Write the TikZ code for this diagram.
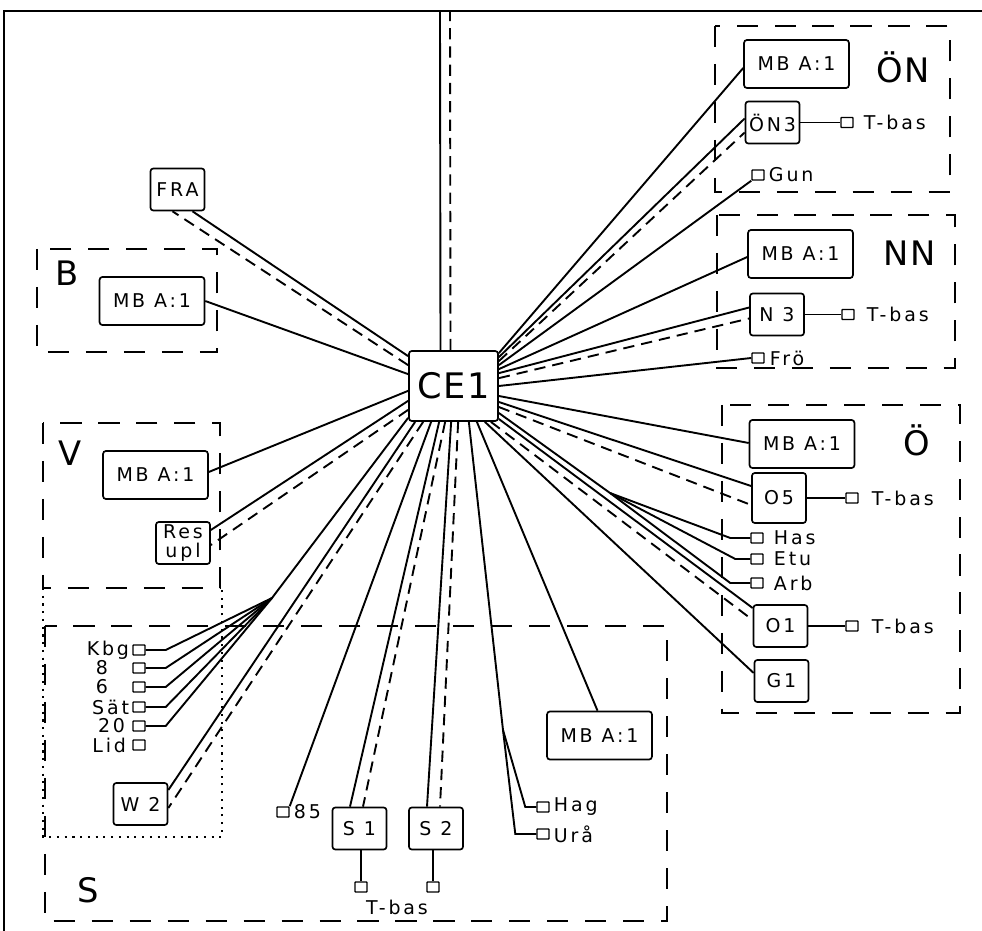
\documentclass[tikz,border=0pt]{standalone}
\usepackage{fontspec}
\setmainfont{DejaVu Sans}
\newfontfamily\plotfont[LetterSpace=15]{DejaVu Sans}
\newfontfamily\plotbig[LetterSpace=5]{DejaVu Sans}
\usetikzlibrary{calc}

\begin{document}
\begin{tikzpicture}[
    x=0.025cm, y=-0.025cm,
    font=\plotfont\fontsize{13.5}{15}\selectfont,
    mbbox/.style={rectangle, draw, rounded corners=2pt, line width=1.2pt, minimum width=2.62cm, minimum height=1.2cm, inner sep=0pt},
    stnbox/.style={rectangle, draw, rounded corners=2pt, line width=1.2pt, minimum width=1.35cm, minimum height=1.05cm, inner sep=0pt},
    term/.style={rectangle, draw, rounded corners=0.5pt, line width=1pt, minimum width=0.3cm, minimum height=0.25cm, inner sep=0pt},
    grp/.style={draw, line width=1.5pt, dash pattern=on 15pt off 12pt},
    grplabel/.style={font=\plotbig\fontsize{24}{26}\selectfont},
    link/.style={line width=1.35pt},
    dlink/.style={line width=1.35pt, dash pattern=on 8pt off 5pt}
]
\useasboundingbox (0,0) rectangle (982,931);

\coordinate (frameTL) at (4,11);
\coordinate (topS) at (440,11);
\coordinate (topD) at (450,11);
\draw[line width=2pt] (4,931) -- (frameTL) -- (982,11);

\draw[grp] (715,26) rectangle (950,192);
\draw[grp] (717,215) rectangle (955,368);
\draw[grp] (722,405) rectangle (960,713);
\draw[grp] (37,249) rectangle (217,352);
\draw[grp] (43,423) rectangle (220,588);
\draw[grp] (45,626) rectangle (667,921);
\draw[line width=1.3pt, dash pattern=on 1.5pt off 4pt] (43,588) -- (43,837) -- (222,837) -- (222,588);

\node[stnbox, minimum width=2.225cm, minimum height=1.75cm, font=\plotbig\fontsize{25}{27}\selectfont] (ce) at (453.5,386) {CE1};

\node[mbbox] (mbON) at (796.5,64) {MB A:1};
\node[stnbox] (on3) at (772.5,122.5) {ÖN3};
\node[term] (tON3) at (847,122.5) {};
\node[anchor=west] (tbON3) at (859,122.5) {T-bas};
\node[term] (tGun) at (758,175) {};
\node[anchor=west] (lGun) at (764,175) {Gun};
\node[grplabel] (lON) at (903,67) {ÖN};

\node[mbbox] (mbNN) at (800.5,254) {MB A:1};
\node[stnbox] (n3) at (777,314.5) {N 3};
\node[term] (tN3) at (848,314.5) {};
\node[anchor=west] (tbN3) at (862,314.5) {T-bas};
\node[term] (tFro) at (758,358) {};
\node[anchor=west] (lFro) at (765,358) {Frö};
\node[grplabel] (lNN) at (910,253) {NN};

\node[mbbox] (mbO) at (802,444) {MB A:1};
\node[stnbox, minimum height=1.25cm] (o5) at (779,498) {O5};
\node[term] (tO5) at (852,498) {};
\node[anchor=west] (tbO5) at (867,498) {T-bas};
\node[term] (tHas) at (757,538) {};
\node[anchor=west] (lHas) at (769,538) {Has};
\node[term] (tEtu) at (757,559) {};
\node[anchor=west] (lEtu) at (769,559) {Etu};
\node[term] (tArb) at (757,583) {};
\node[anchor=west] (lArb) at (769,583) {Arb};
\node[stnbox] (o1) at (780.5,626) {O1};
\node[term] (tO1) at (852,626) {};
\node[anchor=west] (tbO1) at (867,626) {T-bas};
\node[stnbox] (g1) at (781.5,681) {G1};
\node[grplabel] (lO) at (917,440) {Ö};

\node[stnbox] (fra) at (177.5,189.5) {FRA};
\node[mbbox] (mbB) at (152,301) {MB A:1};
\node[grplabel] (lB) at (67,273) {B};
\node[mbbox] (mbV) at (155.5,475) {MB A:1};
\node[stnbox, align=center, font=\plotfont\fontsize{13.5}{14}\selectfont] (res) at (183,543) {Res\\upl};
\node[grplabel] (lV) at (70,453) {V};

\node[term] (tKbg) at (139,650) {};
\node[anchor=east] (lKbg) at (134,650) {Kbg};
\node[term] (t8) at (139,668) {};
\node (l8) at (102,668) {8};
\node[term] (t6) at (139,687) {};
\node (l6) at (102,687) {6};
\node[term] (tSat) at (139,707) {};
\node[anchor=east] (lSat) at (134,707) {Sät};
\node[term] (t20) at (139,726) {};
\node[anchor=east] (l20) at (130,726) {20};
\node[term] (tLid) at (139,745) {};
\node[anchor=east] (lLid) at (131,745) {Lid};
\coordinate (fan) at (272,598);

\node[stnbox] (w2) at (140.5,804) {W 2};
\node[term] (t85) at (283,812) {};
\node[anchor=west] (l85) at (289,812) {85};
\node[stnbox] (s1) at (359.5,828.5) {S 1};
\node[stnbox] (s2) at (436,828.5) {S 2};
\node[term] (ts1) at (361,887) {};
\node[term] (ts2) at (433,887) {};
\node (tbS) at (397,907) {T-bas};
\node[mbbox] (mbS) at (599.5,735.5) {MB A:1};
\node[term] (tHag) at (543,807) {};
\node[anchor=west] (lHag) at (549,807) {Hag};
\node[term] (tUra) at (543,834) {};
\node[anchor=west] (lUra) at (549,834) {Urå};
\node[grplabel] (lS) at (88,890) {S};
\coordinate (hasfork) at (610,493);
\coordinate (hagfork) at (503,730);

\draw[link] ([shift={(-13,0)}]ce.north) -- (topS);
\draw[dlink] ([shift={(-3,0)}]ce.north) -- (topD);

\draw[link] ([shift={(0,3)}]ce.north east) -- ([shift={(0,4)}]mbON.west);
\draw[link] ([shift={(0,7)}]ce.north east) -- ([shift={(0,-4)}]on3.west);
\draw[dlink] ([shift={(0,11)}]ce.north east) -- ([shift={(0,10)}]on3.west);
\draw[link] ([shift={(0,15)}]ce.north east) -- (tGun.south west);
\draw[link] (on3.east) -- (tON3.west);
\draw[link] ([shift={(0,19)}]ce.north east) -- ([shift={(0,3)}]mbNN.west);
\draw[link] ([shift={(0,23)}]ce.north east) -- ([shift={(0,-7)}]n3.west);
\draw[dlink] ([shift={(0,28)}]ce.north east) -- ([shift={(0,4)}]n3.west);
\draw[link] (n3.east) -- (tN3.west);
\draw[link] (ce.east) -- (tFro.west);

\draw[link] ([shift={(0,10)}]ce.east) -- ([shift={(0,-1)}]mbO.west);
\draw[link] ([shift={(0,16)}]ce.east) -- ([shift={(0,-12)}]o5.west);
\draw[dlink] ([shift={(0,21)}]ce.east) -- ([shift={(0,7)}]o5.west);
\draw[link] (o5.east) -- (tO5.west);
\draw[link] ([shift={(0,27)}]ce.east) -- (hasfork);
\draw[link] (hasfork) -- ([shift={(-20,0)}]tHas.west) -- (tHas.west);
\draw[link] (hasfork) -- ([shift={(-15,0)}]tEtu.west) -- (tEtu.west);
\draw[link] (hasfork) -- ([shift={(-20,0)}]tArb.west) -- (tArb.west);
\draw[link] ([shift={(0,33)}]ce.east) -- ([shift={(0,-18)}]o1.west);
\draw[dlink] ([shift={(-8,0)}]ce.south east) -- ([shift={(0,-6)}]o1.west);
\draw[link] (o1.east) -- (tO1.west);
\draw[link] ([shift={(-14,0)}]ce.south east) -- ([shift={(0,-8)}]g1.west);

\draw[link] ([shift={(-22,0)}]ce.south east) -- ([shift={(-2,0)}]mbS.north);
\draw[link] ([shift={(-30,0)}]ce.south east) -- (hagfork);
\draw[link] (hagfork) -- ([shift={(-11,0)}]tHag.west) -- (tHag.west);
\draw[link] (hagfork) -- ([shift={(-21,0)}]tUra.west) -- (tUra.west);
\draw[link] ([shift={(43,0)}]ce.south west) -- ([shift={(-9,0)}]s2.north);
\draw[dlink] ([shift={(50,0)}]ce.south west) -- ([shift={(4,0)}]s2.north);
\draw[link] ([shift={(31,0)}]ce.south west) -- ([shift={(-9.5,0)}]s1.north);
\draw[dlink] ([shift={(37,0)}]ce.south west) -- ([shift={(3.5,0)}]s1.north);
\draw[link] (s1.south -| ts1) -- (ts1.north);
\draw[link] (s2.south -| ts2) -- (ts2.north);
\draw[link] ([shift={(23,0)}]ce.south west) -- (t85.north east);
\draw[link] ([shift={(7,0)}]ce.south west) -- ([shift={(0,-14)}]w2.east);
\draw[dlink] ([shift={(15,0)}]ce.south west) -- ([shift={(0,4)}]w2.east);

\draw[link] ([shift={(0,-4)}]ce.south west) -- (fan);
\draw[link] (tKbg.east) -- ++(20,0) -- (fan);
\draw[link] (t8.east) -- ++(20,0) -- (fan);
\draw[link] (t6.east) -- ++(20,0) -- (fan);
\draw[link] (tSat.east) -- ++(20,0) -- (fan);
\draw[link] (t20.east) -- ++(20,0) -- (fan);

\draw[link] ([shift={(0,-21)}]ce.south west) -- ([shift={(0,-13)}]res.east);
\draw[dlink] ([shift={(0,-12)}]ce.south west) -- ([shift={(0,2)}]res.east);
\draw[link] ([shift={(0,-31)}]ce.south west) -- ([shift={(0,-3)}]mbV.east);
\draw[link] ([shift={(0,24)}]ce.north west) -- (mbB.east);
\draw[link] ([shift={(0,6)}]ce.north west) -- ([shift={(15,0)}]fra.south);
\draw[dlink] ([shift={(0,15)}]ce.north west) -- ([shift={(-5,0)}]fra.south);

\end{tikzpicture}
\end{document}
